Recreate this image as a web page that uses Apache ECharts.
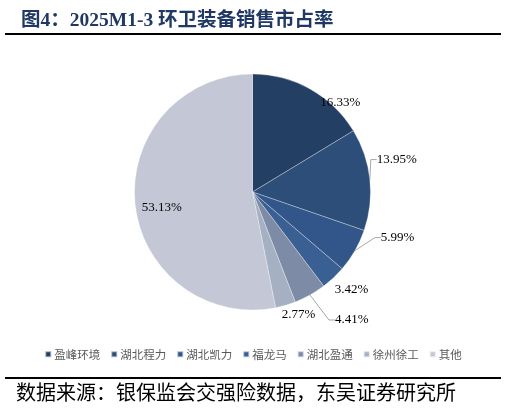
<!DOCTYPE html>
<html><head><meta charset="utf-8">
<script src="https://cdn.jsdelivr.net/npm/echarts@6/dist/echarts.min.js"></script>
<style>html,body{margin:0;padding:0;background:#fff}#c{width:506px;height:413px}</style>
</head><body><div id="c"></div>
<script>
var categories = ['盈峰环境','湖北程力','湖北凯力','福龙马','湖北盈通','徐州徐工','其他'];
var shares = [16.33, 13.95, 5.99, 3.42, 4.41, 2.77, 53.13];
var colors = ['#243F64','#2C4E78','#32558A','#3A5F93','#7D8BA6','#A6B0C3','#C4C8D6'];
var titleText = '图4：2025M1-3 环卫装备销售市占率';
var sourceText = '数据来源：银保监会交强险数据，东吴证券研究所';

var chart = echarts.init(document.getElementById('c'));
var withLine = {'湖北程力':1,'湖北凯力':1,'湖北盈通':1};
var data = categories.map(function(n,i){
  var d = {name:n, value:shares[i], itemStyle:{color:colors[i]}, labelLine:{show:!!withLine[n]}};
  if (n === '其他') d.label = {position:'inside', offset:[-29,9]};
  return d;
});
// label nudges to mimic the reference's hand-placed labels
var nudge = [[-5,20],[-12,-19],[8,-17],[-15,6],[10,18],[-17,2],[0,0]];
chart.setOption({
  animation:false,
  title:{text:titleText, left:16, top:6, textStyle:{fontFamily:'Liberation Serif, Noto Sans CJK SC', fontWeight:'bold', fontSize:19.5, color:'#1F3864'}},
  legend:{bottom:48, left:'center', itemWidth:6, itemHeight:6, itemGap:10, icon:'rect',
    textStyle:{fontSize:11.5, color:'#595959', fontFamily:'Noto Sans CJK SC', padding:[0,0,0,-2]}},
  graphic:[
    {type:'rect', shape:{x:5,y:33,width:496,height:2}, style:{fill:'#000'}},
    {type:'rect', shape:{x:5,y:377,width:496,height:2}, style:{fill:'#000'}},
    {type:'text', left:16, top:382, style:{text:sourceText, fontSize:20, fill:'#000', fontFamily:'Noto Sans CJK SC'}}
  ],
  series:[{
    type:'pie', center:[252.5,192], radius:118, startAngle:90, clockwise:true,
    data:data, avoidLabelOverlap:false,
    itemStyle:{borderColor:'rgba(255,255,255,0.6)', borderWidth:0.5},
    label:{formatter:function(p){return p.value.toFixed(2)+'%';}, fontFamily:'Liberation Serif', fontSize:13, color:'#000'},
    labelLine:{length:8, length2:6, lineStyle:{color:'#A6A6A6', width:1}},
    labelLayout:function(p){
      var o = nudge[p.dataIndex];
      if (p.dataIndex === 6) return {};
      var r = p.labelRect;
      return {x:r.x + o[0], y:r.y + r.height/2 + o[1], align:'left', verticalAlign:'middle'};
    }
  }]
});
</script></body></html>
